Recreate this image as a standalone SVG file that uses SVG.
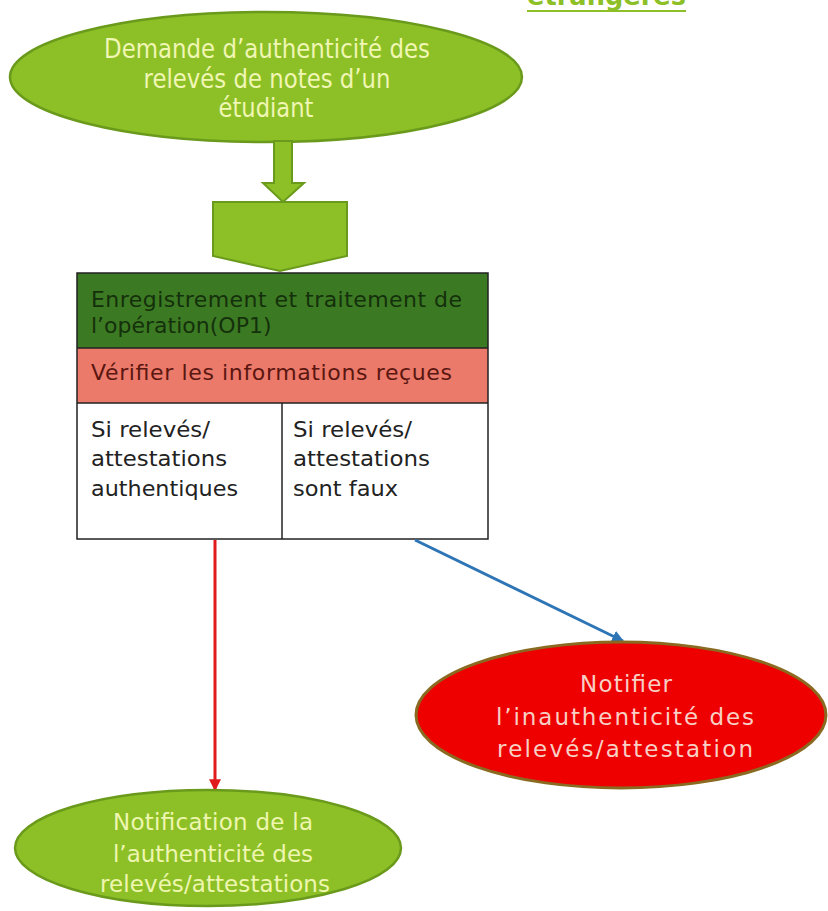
<svg xmlns="http://www.w3.org/2000/svg" width="828" height="911" viewBox="0 0 828 911">
  <defs>
    <marker id="arrow-red" viewBox="0 0 10 10" refX="9" refY="5" markerWidth="4" markerHeight="4" orient="auto" markerUnits="strokeWidth">
      <path d="M0,0 L10,5 L0,10 z" fill="#e01b1b"/>
    </marker>
    <marker id="arrow-blue" viewBox="0 0 10 10" refX="9" refY="5" markerWidth="4" markerHeight="4" orient="auto" markerUnits="strokeWidth">
      <path d="M0,0 L10,5 L0,10 z" fill="#2e75b6"/>
    </marker>
  </defs>
  <style>
    text { font-family: "DejaVu Sans", "Liberation Sans", sans-serif; }
    .cell { font-size: 22px; }
    .green-node { fill: #8dc026; stroke: #6a9a1c; stroke-width: 2.5; }
    .top-text { fill: #f0f6b4; font-size: 27px; text-anchor: middle; }
    .end-text { fill: #eef6b0; font-size: 23px; text-anchor: middle; }
    .fake-text { fill: #f8cfc4; font-size: 23px; text-anchor: middle; }
    .grid { fill: none; stroke: #222; stroke-width: 1.5; }
  </style>
  <rect width="828" height="911" fill="#ffffff"/>

  <!-- title fragment at the top edge -->
  <g id="title">
    <text x="527" y="5" font-size="26" font-weight="bold" fill="#8dc026" textLength="159" lengthAdjust="spacingAndGlyphs">étrangères</text>
    <line x1="527" y1="11" x2="686" y2="11" stroke="#8dc026" stroke-width="2"/>
  </g>

  <!-- request ellipse -->
  <g id="request">
    <ellipse cx="266" cy="77" rx="256" ry="65" class="green-node"/>
    <text class="top-text" x="267" y="58" textLength="326" lengthAdjust="spacingAndGlyphs">Demande d’authenticité des</text>
    <text class="top-text" x="267" y="88" textLength="247" lengthAdjust="spacingAndGlyphs">relevés de notes d’un</text>
    <text class="top-text" x="266" y="117" textLength="95" lengthAdjust="spacingAndGlyphs">étudiant</text>
  </g>

  <!-- block arrow and chevron into the process -->
  <g id="entry-arrow">
    <path d="M274,141 L292,141 L292,183 L304,183 L283,202 L263,183 L274,183 Z" fill="#8dc026" stroke="#6a9a1c" stroke-width="2"/>
    <path d="M213,202 L347,202 L347,256 L280,271 L213,256 Z" fill="#8dc026" stroke="#6a9a1c" stroke-width="2"/>
  </g>

  <!-- process table -->
  <g id="process">
    <rect x="77" y="273" width="411" height="75" fill="#3b7a22"/>
    <rect x="77" y="348" width="411" height="55" fill="#ec7a6a"/>
    <rect x="77" y="403" width="411" height="136" fill="#ffffff"/>
    <rect x="77" y="273" width="411" height="266" class="grid"/>
    <line x1="77" y1="348" x2="488" y2="348" class="grid"/>
    <line x1="77" y1="403" x2="488" y2="403" class="grid"/>
    <line x1="282" y1="403" x2="282" y2="539" class="grid"/>
    <text class="cell" x="91" y="307" fill="#15300c" textLength="371" lengthAdjust="spacing">Enregistrement et traitement de</text>
    <text class="cell" x="91" y="333" fill="#15300c">l’opération(OP1)</text>
    <text class="cell" x="91" y="380" fill="#5a1610" textLength="361" lengthAdjust="spacing">Vérifier les informations reçues</text>
    <text class="cell" x="91" y="437" fill="#222" textLength="119" lengthAdjust="spacingAndGlyphs">Si relevés/</text>
    <text class="cell" x="91" y="466" fill="#222" textLength="136" lengthAdjust="spacingAndGlyphs">attestations</text>
    <text class="cell" x="91" y="496" fill="#222" textLength="147" lengthAdjust="spacingAndGlyphs">authentiques</text>
    <text class="cell" x="293" y="437" fill="#222" textLength="119" lengthAdjust="spacingAndGlyphs">Si relevés/</text>
    <text class="cell" x="293" y="466" fill="#222" textLength="137" lengthAdjust="spacingAndGlyphs">attestations</text>
    <text class="cell" x="293" y="496" fill="#222" textLength="105" lengthAdjust="spacingAndGlyphs">sont faux</text>
  </g>

  <!-- connectors -->
  <g id="connectors">
    <line x1="215" y1="540" x2="215" y2="790" stroke="#e01b1b" stroke-width="3" marker-end="url(#arrow-red)"/>
    <line x1="415" y1="540" x2="623" y2="641" stroke="#2e75b6" stroke-width="3" marker-end="url(#arrow-blue)"/>
  </g>

  <!-- negative outcome -->
  <g id="notify-fake">
    <ellipse cx="621" cy="715" rx="205" ry="73" fill="#ee0000" stroke="#8a6a20" stroke-width="3"/>
    <text class="fake-text" x="626" y="692" textLength="92" lengthAdjust="spacing">Notifier</text>
    <text class="fake-text" x="625" y="725" textLength="258" lengthAdjust="spacing">l’inauthenticité des</text>
    <text class="fake-text" x="625" y="757" textLength="256" lengthAdjust="spacing">relevés/attestation</text>
  </g>

  <!-- positive outcome -->
  <g id="notify-authentic">
    <ellipse cx="208" cy="848" rx="193" ry="58" class="green-node"/>
    <text class="end-text" x="213" y="830" textLength="200" lengthAdjust="spacing">Notification de la</text>
    <text class="end-text" x="213" y="862" textLength="200" lengthAdjust="spacing">l’authenticité des</text>
    <text class="end-text" x="215" y="892" textLength="230" lengthAdjust="spacing">relevés/attestations</text>
  </g>
</svg>
